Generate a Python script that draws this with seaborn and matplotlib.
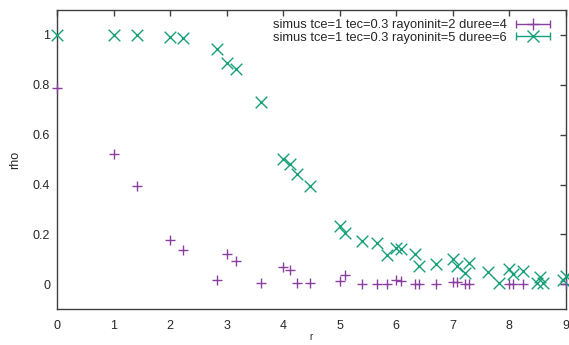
import numpy as np
import pandas as pd
import matplotlib
matplotlib.use("Agg")
import matplotlib.pyplot as plt
from matplotlib.legend_handler import HandlerErrorbar
import seaborn as sns

# ---- data ----
r_a = [0, 1, 1.414, 2, 2.236, 2.828, 3, 3.162, 3.606, 4, 4.123, 4.243, 4.472,
       5, 5.099, 5.385, 5.657, 5.831, 6, 6.083, 6.325, 6.403, 6.708,
       7, 7.071, 7.211, 7.280, 8, 8.062, 8.246, 9]
rho_a = [0.787, 0.524, 0.396, 0.177, 0.137, 0.016, 0.12, 0.093, 0.007, 0.071, 0.057, 0.004, 0.004,
         0.013, 0.036, 0.003, 0.003, 0.003, 0.017, 0.013, 0.003, 0.003, 0.003,
         0.010, 0.008, 0.003, 0.003, 0.003, 0.003, 0.003, 0.003]

r_b = [0, 1, 1.414, 2, 2.236, 2.828, 3, 3.162, 3.606, 4, 4.123, 4.243, 4.472,
       5, 5.099, 5.385, 5.657, 5.831, 6, 6.083, 6.325, 6.403, 6.708,
       7, 7.071, 7.211, 7.280, 7.616, 7.810, 8, 8.062, 8.246, 8.485, 8.544, 8.602, 8.944, 9]
rho_b = [1.0, 1.0, 1.0, 0.99, 0.987, 0.943, 0.887, 0.863, 0.733, 0.503, 0.484, 0.444, 0.396,
         0.233, 0.204, 0.173, 0.164, 0.116, 0.147, 0.143, 0.12, 0.073, 0.08,
         0.1, 0.073, 0.047, 0.084, 0.049, 0.007, 0.06, 0.04, 0.053, 0.007, 0.031, 0.007, 0.017, 0.033]

label_a = "simus tce=1 tec=0.3 rayoninit=2 duree=4"
label_b = "simus tce=1 tec=0.3 rayoninit=5 duree=6"
x_ticks = [0, 1, 2, 3, 4, 5, 6, 7, 8, 9]
y_ticks = [0, 0.2, 0.4, 0.6, 0.8, 1]
y_tick_labels = ["0", "0.2", "0.4", "0.6", "0.8", "1"]

col_a = "#8a3fa0"
col_b = "#16a077"

sns.set_style("white")
plt.rcParams['font.family'] = ['Liberation Sans', 'DejaVu Sans']

fig = plt.figure(figsize=(5.69, 3.45), dpi=100)
ax = fig.add_axes([0.1002, 0.1035, 0.8945, 0.8675])

df_a = pd.DataFrame({"r": r_a, "rho": rho_a})
df_b = pd.DataFrame({"r": r_b, "rho": rho_b})

sns.scatterplot(data=df_a, x="r", y="rho", marker="+", s=55, color=col_a,
                linewidth=1.0, ax=ax, legend=False, zorder=3, clip_on=False)
sns.scatterplot(data=df_b, x="r", y="rho", marker="x", s=70, color=col_b,
                linewidth=1.0, ax=ax, legend=False, zorder=3, clip_on=False)

# legend handles in gnuplot errorbar style
h_a = ax.errorbar([np.nan], [np.nan], xerr=[0.1], fmt="+", color=col_a, ms=9,
                  capsize=3, elinewidth=1.0, mew=1.0, capthick=1.0, label=label_a)
h_b = ax.errorbar([np.nan], [np.nan], xerr=[0.1], fmt="x", color=col_b, ms=9,
                  capsize=3, elinewidth=1.0, mew=1.0, capthick=1.0, label=label_b)
leg = ax.legend(handles=[h_a, h_b], loc="upper right", bbox_to_anchor=(0.985, 0.995),
                frameon=False, markerfirst=False, fontsize=9.3, handlelength=2.7,
                handletextpad=0.7, labelspacing=0.05, borderaxespad=0.2,
                handler_map={type(h_a): HandlerErrorbar(xerr_size=1.3)})

ax.set_xlim(0, 9)
ax.set_ylim(-0.1, 1.1)
ax.set_xticks(x_ticks)
ax.set_yticks(y_ticks)
ax.set_yticklabels(y_tick_labels)
ax.tick_params(axis="both", direction="in", length=4, width=1, color="#404040",
               labelsize=9, top=True, right=True, labeltop=False, labelright=False)
ax.tick_params(axis="x", pad=8)
ax.tick_params(axis="y", pad=5)
for s in ax.spines.values():
    s.set_color("#404040")
    s.set_linewidth(1.0)
    s.set_visible(True)
ax.set_xlabel("r", fontsize=7, labelpad=0)
ax.set_ylabel("rho", fontsize=9, labelpad=8)
ax.grid(False)

fig.savefig("out.png", dpi=100)
